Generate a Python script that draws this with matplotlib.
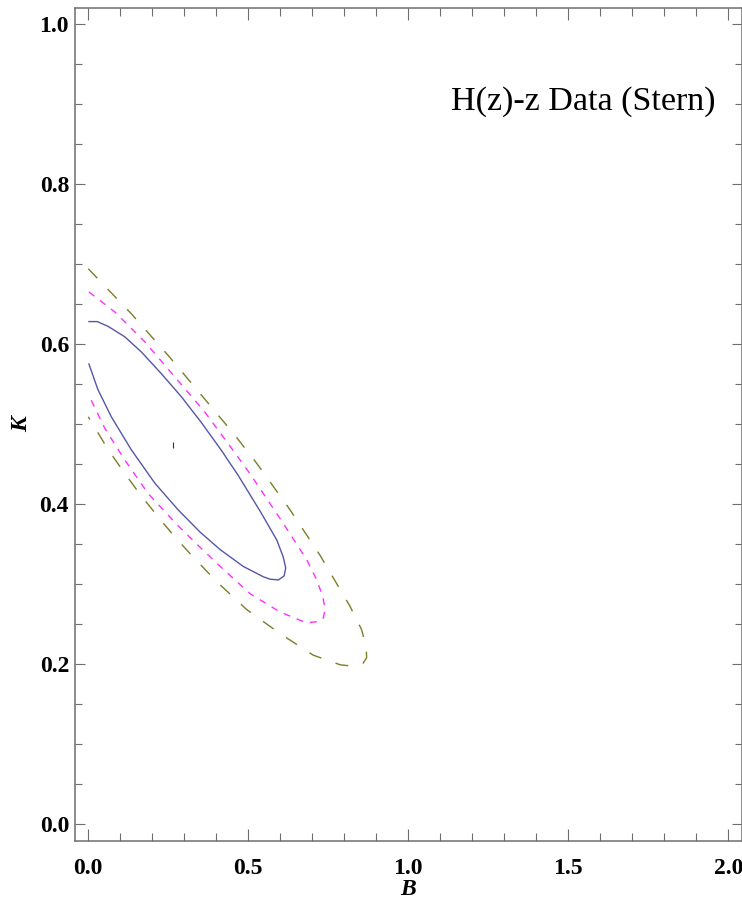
#! /usr/bin/python3

import sys

import matplotlib
matplotlib.use("Agg")
import matplotlib.pyplot as plt
from matplotlib.ticker import MultipleLocator, FormatStrFormatter

## Confidence contours (B, K), from the B=0 edge
## along the upper branch, round the tip and back along the lower branch
SIGMA1_B = [0.002, 0.028, 0.062, 0.114, 0.166, 0.228, 0.291, 0.353, 0.416, 0.468,
            0.537, 0.589, 0.609, 0.617, 0.612, 0.594, 0.568, 0.547, 0.484, 0.412,
            0.349, 0.280, 0.208, 0.134, 0.072, 0.030, 0.002]
SIGMA1_K = [0.628, 0.628, 0.622, 0.609, 0.590, 0.563, 0.534, 0.502, 0.467, 0.436,
            0.391, 0.355, 0.334, 0.320, 0.310, 0.305, 0.306, 0.309, 0.322, 0.343,
            0.365, 0.393, 0.426, 0.468, 0.509, 0.543, 0.575]

SIGMA2_B = [0.002, 0.083, 0.176, 0.270, 0.364, 0.447, 0.505, 0.609, 0.683, 0.714,
            0.733, 0.740, 0.734, 0.719, 0.693, 0.672, 0.599, 0.505, 0.412, 0.349,
            0.280, 0.187, 0.114, 0.051, 0.004]
SIGMA2_K = [0.665, 0.640, 0.603, 0.559, 0.515, 0.470, 0.438, 0.376, 0.330, 0.305,
            0.284, 0.268, 0.257, 0.253, 0.252, 0.253, 0.265, 0.288, 0.322, 0.346,
            0.373, 0.413, 0.455, 0.495, 0.534]

SIGMA3_B = [0.000, 0.134, 0.249, 0.358, 0.458, 0.526, 0.630, 0.724, 0.818, 0.854,
            0.868, 0.870, 0.859, 0.844, 0.808, 0.787, 0.703, 0.599, 0.495, 0.401,
            0.327, 0.270, 0.218, 0.160, 0.109, 0.062, 0.000]
SIGMA3_K = [0.694, 0.638, 0.586, 0.534, 0.486, 0.451, 0.393, 0.336, 0.272, 0.243,
            0.222, 0.208, 0.201, 0.198, 0.198, 0.199, 0.211, 0.238, 0.268, 0.303,
            0.334, 0.359, 0.384, 0.413, 0.441, 0.468, 0.509]

BEST_FIT = (0.264, 0.474)

TITLE = "H(z)-z Data (Stern)"

FRAME = "#6e6e6e"


def main():
    plt.rcParams["font.family"] = ["Liberation Serif", "DejaVu Serif"]
    plt.rcParams["lines.scale_dashes"] = False

    f = plt.figure(figsize=(7.42, 9.23), dpi=100)
    ax = f.add_axes([75.3/742, 82/923, 666.4/742, 833/923])

    ## Contours (dash lengths in points)
    lw = 1.0
    ax.plot(SIGMA1_B, SIGMA1_K, color="#5656a8", linewidth=lw)
    ax.plot(SIGMA2_B, SIGMA2_K, color="#ff30ff", linewidth=lw, linestyle=(0, (5.0, 5.0)))
    ax.plot(SIGMA3_B, SIGMA3_K, color="#7d7d26", linewidth=lw, linestyle=(0, (9.4, 10.8)))
    ax.plot([BEST_FIT[0]], [BEST_FIT[1]], marker="|", markersize=5, mew=0.8, color="#333333")

    ## Axes
    ax.set_xlim(-0.0406, 2.042)
    ax.set_ylim(-0.0213, 1.02)
    ax.xaxis.set_major_locator(MultipleLocator(0.5))
    ax.xaxis.set_minor_locator(MultipleLocator(0.1))
    ax.yaxis.set_major_locator(MultipleLocator(0.2))
    ax.yaxis.set_minor_locator(MultipleLocator(0.05))
    ax.xaxis.set_major_formatter(FormatStrFormatter("%.1f"))
    ax.yaxis.set_major_formatter(FormatStrFormatter("%.1f"))

    ax.tick_params(axis="both", which="both", direction="in", top=True, right=True,
                   color=FRAME, width=0.8, labelsize=17)
    ax.tick_params(axis="x", which="major", length=8.6, pad=12)
    ax.tick_params(axis="x", which="minor", length=5.8)
    ax.tick_params(axis="y", which="major", length=7.2, pad=4.5)
    ax.tick_params(axis="y", which="minor", length=5)
    for lab in ax.get_xticklabels() + ax.get_yticklabels():
        lab.set_fontweight("bold")

    for s in ax.spines.values():
        s.set_color(FRAME)
        s.set_linewidth(1.1)

    ax.set_xlabel("B", fontsize=17, fontweight="bold", fontstyle="italic", labelpad=0)
    ax.set_ylabel("K", fontsize=17, fontweight="bold", fontstyle="italic", labelpad=5)

    ax.text(0.96, 0.8776, TITLE, transform=ax.transAxes, ha="right", va="baseline",
            fontsize=24.5)

    f.savefig("out.png", dpi=100)
    return 0


if __name__ == '__main__':
    sys.exit(main())
